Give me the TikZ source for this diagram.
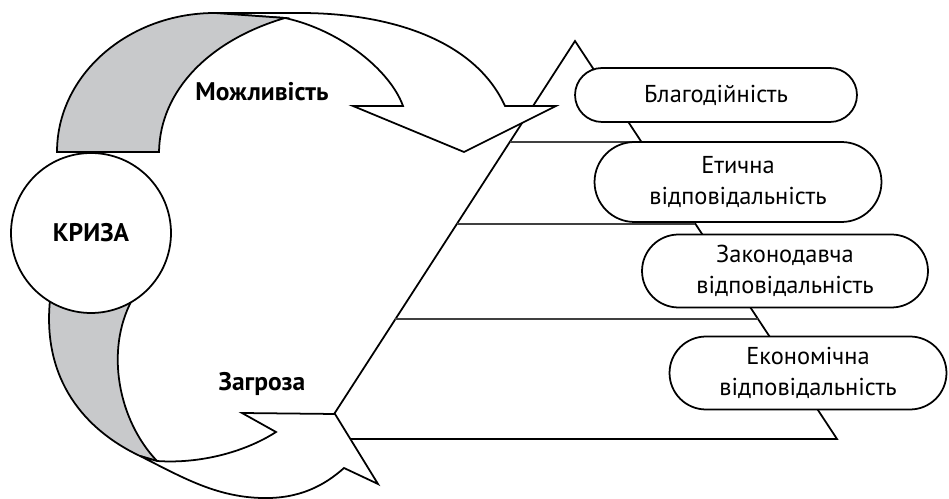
\documentclass[tikz,border=0pt]{standalone}
\usepackage{fontspec}
\setmainfont{PT Sans}
\usetikzlibrary{calc, shapes.misc}
\definecolor{bandgray}{RGB}{200,201,203}

\begin{document}
\begin{tikzpicture}[x=0.02cm, y=-0.02cm,
    outline/.style={draw=black, line width=1pt, line join=miter},
    layer/.style={draw=black!75, line width=0.7pt},
    pill/.style={rounded rectangle, draw=black, line width=1pt, fill=white,
        align=center, inner sep=0pt, font=\fontsize{13.9}{18}\selectfont},
    tag/.style={font=\bfseries\fontsize{14.5}{16}\selectfont}]
    \useasboundingbox (0,0) rectangle (949,499);

    % Pyramid
    \coordinate (apex) at (575,41);
    \coordinate (baseL) at (318,439);
    \coordinate (baseR) at (837,439);
    \draw[outline] (baseL) -- (apex) -- (baseR) -- cycle;
    \foreach \y in {142,224,319}
        \draw[layer] ($(apex)!{(\y-41)/398}!(baseL)$) -- ($(apex)!{(\y-41)/398}!(baseR)$);

    % Levels
    \node[pill, minimum width=5.64cm, minimum height=1.08cm] (blag) at (716,95) {Благодійність};
    \node[pill, minimum width=5.74cm, minimum height=1.60cm] (etych) at (738,182) {Етична\\відповідальність};
    \node[pill, minimum width=5.72cm, minimum height=1.46cm] (zakon) at (785,271) {Законодавча\\відповідальність};
    \node[pill, minimum width=5.54cm, minimum height=1.46cm] (ekon) at (808,373) {Економічна\\відповідальність};

    % Upper arrow
    \draw[outline, fill=white] (285,18) .. controls (340,30) and (390,70) .. (403,106)
        -- (353,106) -- (464,152) -- (556,106) -- (505,106)
        .. controls (475,40) and (390,13) .. (300,13) -- (215,13) -- cycle;
    \draw[outline, fill=bandgray] (57,152) .. controls (57,75) and (128,13) .. (215,13)
        -- (285,18) .. controls (210,40) and (160,90) .. (159,152) -- cycle;

    % Lower arrow
    \draw[outline, fill=bandgray] (50,300) .. controls (42,380) and (85,430) .. (140,456)
        -- (157,461) .. controls (118,420) and (105,350) .. (132,300) -- cycle;
    \draw[outline, fill=white] (140,456) .. controls (180,476) and (215,497) .. (262,498)
        .. controls (300,499) and (325,485) .. (344,468)
        -- (378,484) -- (335,414) -- (242,413) -- (276,432)
        .. controls (245,452) and (200,464) .. (157,461) -- cycle;

    % Crisis
    \node[circle, outline, fill=white, minimum size=3.2cm, tag] (kryza) at (91,233) {КРИЗА};
    \node[tag] (mozhl) at (262,92) {Можливість};
    \node[tag] (zagroza) at (262,384) {Загроза};
\end{tikzpicture}
\end{document}
